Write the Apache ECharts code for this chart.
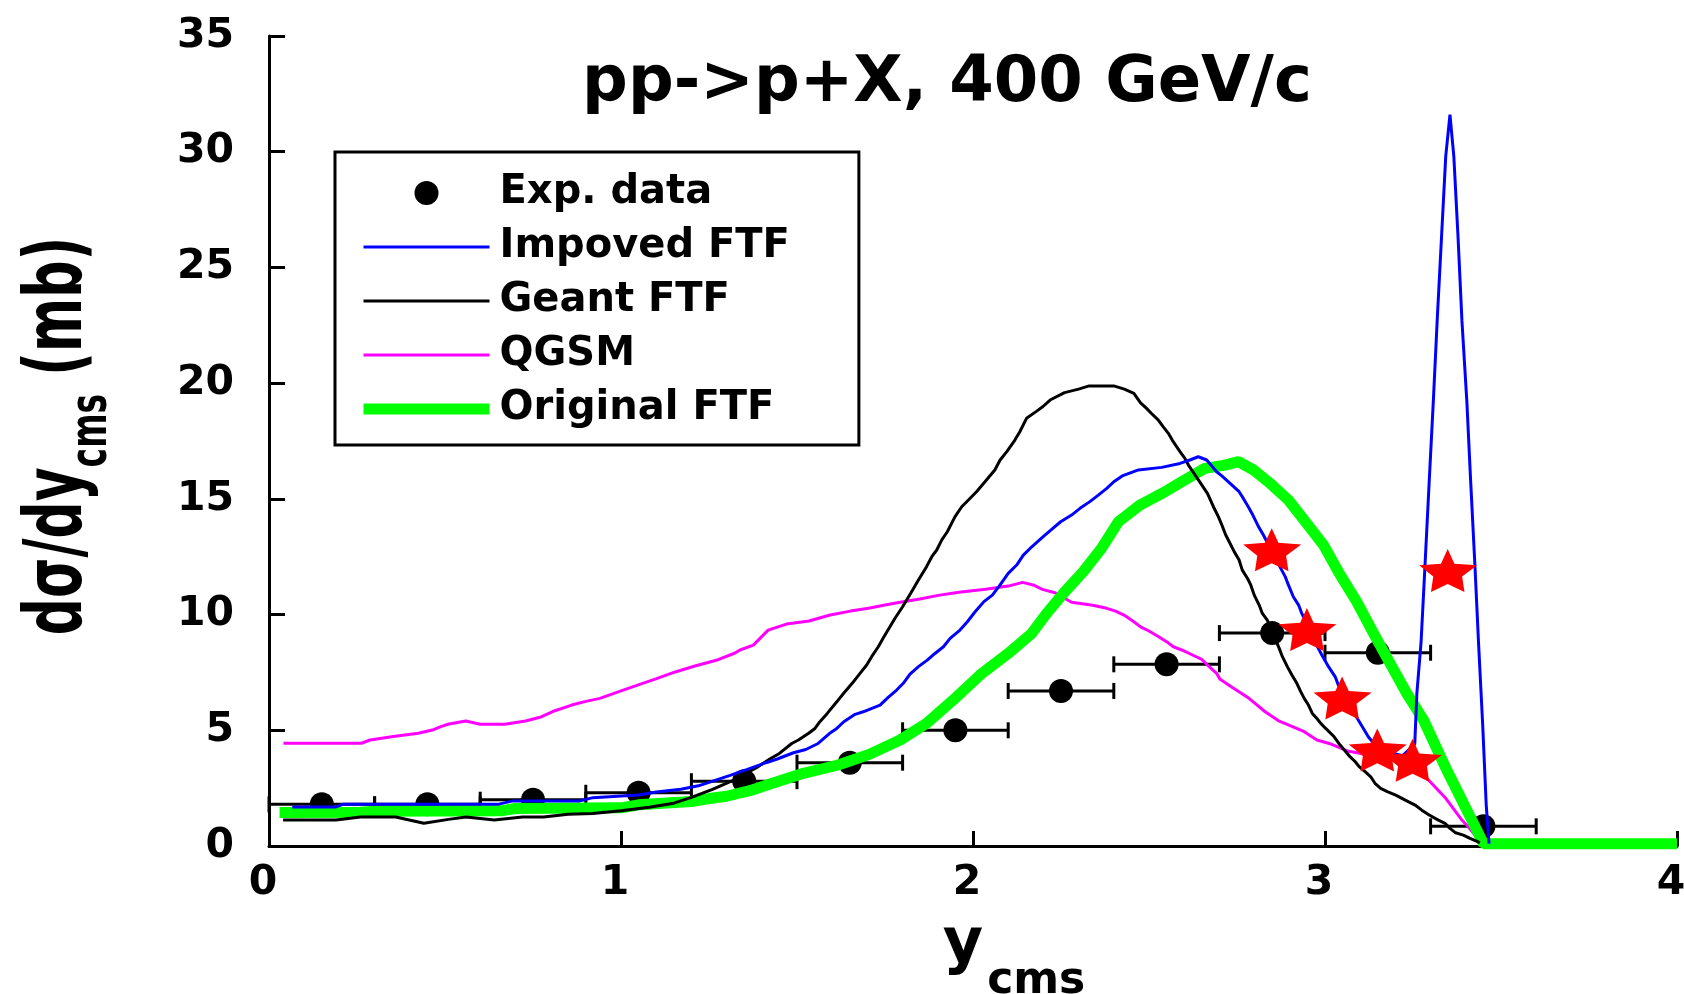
<!DOCTYPE html>
<html>
<head>
<meta charset="utf-8">
<script src="https://cdn.jsdelivr.net/npm/echarts@6/dist/echarts.min.js"></script>
<style>
html,body{margin:0;padding:0;background:#fff;}
#chart{width:1684px;height:994px;}
</style>
</head>
<body>
<div id="chart"></div>
<script>
// ---- data ----
const titleText = 'pp->p+X, 400 GeV/c';
const xTicks = [0, 1, 2, 3, 4];
const yTicks = [0, 5, 10, 15, 20, 25, 30, 35];

const expX    = [0.15, 0.45, 0.75, 1.05, 1.35, 1.65, 1.95, 2.25, 2.55, 2.85, 3.15, 3.45];
const expY    = [1.8, 1.8, 2.0, 2.3, 2.8, 3.6, 5.0, 6.7, 7.85, 9.2, 8.35, 0.85];
const expXErr = [0.15, 0.15, 0.15, 0.15, 0.15, 0.15, 0.15, 0.15, 0.15, 0.15, 0.15, 0.15];

const starX = [2.85, 2.95, 3.05, 3.15, 3.25, 3.35];
const starY = [12.8, 9.35, 6.4, 4.15, 3.7, 11.9];

const improvedX = [0.066,0.19,0.21,0.5,0.65,0.69,0.88,0.92,0.99,1.05,1.1,1.17,1.22,1.25,1.28,1.31,1.338,1.359,1.414,1.444,1.49,1.525,1.56,1.592,1.613,1.633,1.665,1.688,1.736,1.759,1.783,1.802,1.821,1.845,1.87,1.892,1.916,1.935,1.963,1.984,2.006,2.031,2.055,2.077,2.10,2.124,2.143,2.167,2.197,2.221,2.249,2.28,2.304,2.332,2.356,2.38,2.40,2.424,2.47,2.536,2.588,2.616,2.64,2.664,2.692,2.707,2.728,2.756,2.768,2.782,2.795,2.811,2.825,2.85,2.877,2.887,2.896,2.91,2.925,2.934,2.958,2.981,2.991,3.01,3.029,3.038,3.06,3.086,3.109,3.123,3.14,3.17,3.22,3.255,3.261,3.273,3.284,3.296,3.308,3.319,3.331,3.343,3.355,3.366,3.378,3.389,3.403,3.414,3.426,3.436,3.448,3.458,3.466];
const improvedY = [1.69,1.69,1.8,1.8,1.8,1.94,1.94,2.09,2.15,2.2,2.33,2.45,2.6,2.75,2.9,3.05,3.2,3.31,3.61,3.76,4.03,4.17,4.43,4.86,5.08,5.37,5.69,5.8,6.09,6.42,6.74,7.03,7.43,7.75,8.03,8.32,8.61,8.97,9.33,9.69,10.12,10.56,10.84,11.28,11.78,12.14,12.57,12.93,13.34,13.65,14.01,14.3,14.59,14.88,15.16,15.45,15.74,15.99,16.25,16.36,16.53,16.68,16.82,16.68,16.17,15.99,15.7,15.31,15.02,14.66,14.3,13.8,13.44,12.7,11.92,11.64,11.28,10.77,10.41,10.05,9.3,8.54,8.25,7.75,7.31,6.95,6.3,5.66,5.08,4.72,4.4,4.1,3.9,4.4,6.6,8.83,12.1,15.74,19.3,22.8,26.3,29.8,31.6,29.8,26.3,22.7,19.2,15.7,12.1,8.83,5.23,1.77,0.1];

const geantX = [0.04,0.19,0.26,0.36,0.44,0.51,0.56,0.64,0.72,0.78,0.85,0.92,1.0,1.08,1.15,1.2,1.26,1.32,1.39,1.425,1.45,1.485,1.504,1.532,1.551,1.565,1.586,1.613,1.632,1.658,1.679,1.698,1.712,1.731,1.747,1.764,1.778,1.80,1.823,1.845,1.868,1.883,1.897,1.911,1.927,1.949,1.968,1.987,2.01,2.034,2.062,2.077,2.096,2.119,2.133,2.152,2.179,2.198,2.219,2.26,2.30,2.33,2.40,2.43,2.457,2.476,2.493,2.507,2.526,2.54,2.555,2.566,2.588,2.602,2.612,2.647,2.666,2.683,2.697,2.707,2.718,2.73,2.742,2.756,2.765,2.78,2.789,2.799,2.813,2.822,2.836,2.87,2.879,2.893,2.906,2.92,2.931,2.941,2.953,2.964,2.977,2.988,3.002,3.026,3.043,3.071,3.086,3.097,3.114,3.13,3.142,3.158,3.177,3.201,3.228,3.256,3.275,3.296,3.322,3.341,3.355,3.371,3.393,3.412,3.44];
const geantY = [1.12,1.12,1.25,1.25,0.98,1.15,1.25,1.12,1.25,1.25,1.37,1.4,1.52,1.67,1.85,2.1,2.45,2.85,3.43,3.78,4.0,4.43,4.58,4.86,5.08,5.37,5.73,6.23,6.59,7.05,7.46,7.82,8.18,8.61,9.04,9.47,9.83,10.34,10.92,11.49,12.07,12.5,12.79,13.22,13.58,14.23,14.66,14.95,15.31,15.74,16.25,16.68,17.04,17.54,17.9,18.48,18.77,18.98,19.27,19.59,19.74,19.88,19.88,19.74,19.56,19.15,18.91,18.69,18.41,18.12,17.83,17.54,17.04,16.75,16.46,15.67,15.24,14.66,14.23,13.87,13.44,13.08,12.72,12.36,11.92,11.56,11.28,10.84,10.41,10.05,9.76,8.54,8.18,7.75,7.39,7.03,6.67,6.38,6.09,5.73,5.51,5.3,5.08,4.72,4.36,3.86,3.64,3.43,3.21,2.99,2.71,2.49,2.35,2.2,1.98,1.77,1.55,1.34,1.12,0.98,0.76,0.57,0.47,0.33,0.15];

const qgsmX = [0.041,0.263,0.287,0.353,0.424,0.464,0.488,0.511,0.559,0.6,0.67,0.729,0.77,0.806,0.86,0.9,0.94,0.994,1.045,1.099,1.152,1.21,1.276,1.324,1.338,1.376,1.418,1.47,1.534,1.594,1.652,1.703,1.75,1.797,1.849,1.901,1.96,2.036,2.10,2.141,2.171,2.197,2.233,2.28,2.34,2.38,2.405,2.429,2.457,2.476,2.50,2.531,2.55,2.569,2.593,2.628,2.65,2.671,2.692,2.702,2.737,2.784,2.83,2.868,2.901,2.941,2.977,3.012,3.067,3.2,3.294,3.343,3.389,3.407,3.43];
const qgsmY = [4.44,4.44,4.58,4.73,4.87,5.01,5.16,5.27,5.4,5.26,5.26,5.4,5.56,5.81,6.09,6.25,6.38,6.67,6.94,7.22,7.51,7.78,8.05,8.34,8.47,8.68,9.33,9.59,9.72,9.98,10.15,10.27,10.41,10.54,10.67,10.83,10.96,11.09,11.23,11.39,11.28,11.09,10.94,10.53,10.4,10.27,10.15,9.98,9.69,9.47,9.29,9.01,8.83,8.61,8.47,8.22,8.06,7.75,7.46,7.2,6.85,6.38,5.8,5.41,5.2,4.94,4.58,4.43,4.09,3.74,2.85,2.06,1.12,0.83,0.4];

const originalX = [0.03,0.26,0.3,0.66,0.7,1.0,1.05,1.2,1.25,1.3,1.34,1.366,1.428,1.518,1.617,1.707,1.793,1.868,1.944,2.02,2.10,2.167,2.209,2.257,2.313,2.365,2.413,2.474,2.541,2.593,2.659,2.716,2.754,2.797,2.844,2.896,2.948,2.996,3.038,3.09,3.138,3.19,3.232,3.28,3.313,3.346,3.384,3.417,3.45,4.0];
const originalY = [1.45,1.46,1.5,1.52,1.62,1.65,1.78,1.92,2.05,2.15,2.3,2.39,2.7,3.14,3.5,3.97,4.58,5.3,6.31,7.39,8.32,9.19,10.05,10.92,11.85,12.86,14.01,14.73,15.27,15.74,16.32,16.46,16.61,16.25,15.67,14.95,13.94,13.0,11.85,10.56,9.19,7.75,6.6,5.44,4.36,3.28,2.13,1.12,0.1,0.1];

// ---- build chart ----
const pairs = (xs, ys) => xs.map((x, i) => [x, ys[i]]);
const FONT = 'DejaVu Sans';
const starPath = 'path://M85 0 L105 45 L173 50 L128 85 L135 133 L85 108 L35 133 L42 85 L0 50 L65 45 Z';

const chart = echarts.init(document.getElementById('chart'), null, {renderer: 'canvas'});

const hideSym = {opacity: 0};
const option = {
  backgroundColor: '#ffffff',
  animation: false,
  title: {
    text: titleText,
    left: 942,
    top: 47,
    textAlign: 'center',
    textStyle: {fontFamily: FONT, fontWeight: 'bold', fontSize: 64, lineHeight: 64, color: '#000'}
  },
  legend: {
    orient: 'vertical',
    left: 335,
    top: 152,
    padding: [19, 69, 14, 23],
    borderColor: '#000',
    borderWidth: 3,
    backgroundColor: '#fff',
    itemWidth: 126,
    itemHeight: 24,
    itemGap: 10,
    selectedMode: false,
    lineStyle: {width: 'inherit'},
    data: [
      {name: 'Exp. data'},
      {name: 'Impoved FTF', itemStyle: hideSym},
      {name: 'Geant FTF', itemStyle: hideSym},
      {name: 'QGSM', itemStyle: hideSym},
      {name: 'Original FTF', itemStyle: hideSym}
    ],
    textStyle: {fontFamily: FONT, fontWeight: 'bold', fontSize: 40, lineHeight: 44, color: '#000', padding: [0, 0, 0, 5]}
  },
  grid: {left: 269, right: 7, top: 36, bottom: 148, containLabel: false, outerBoundsMode: 'none'},
  xAxis: {
    type: 'value', min: 0, max: 4, interval: 1,
    name: '{a|y}{b|cms}',
    nameLocation: 'middle',
    nameGap: 69,
    nameTextStyle: {
      padding: [0, 0, 0, 82],
      rich: {
        a: {fontFamily: FONT, fontWeight: 'bold', fontSize: 62, lineHeight: 62, verticalAlign: 'top', color: '#000'},
        b: {fontFamily: FONT, fontWeight: 'bold', fontSize: 44, lineHeight: 44, verticalAlign: 'top', padding: [45, 0, 0, 4], color: '#000'}
      }
    },
    axisLine: {lineStyle: {color: '#000', width: 3}},
    axisTick: {inside: true, length: 15, lineStyle: {color: '#000', width: 3}},
    axisLabel: {fontFamily: FONT, fontWeight: 'bold', fontSize: 41, color: '#000', margin: 17,
      padding: [0, 12, 0, 0],
      formatter: v => String(xTicks[xTicks.indexOf(v)])},
    splitLine: {show: false}
  },
  yAxis: {
    type: 'value', min: 0, max: 35, interval: 5,
    axisLine: {show: true, lineStyle: {color: '#000', width: 3}},
    axisTick: {show: true, inside: true, length: 16, lineStyle: {color: '#000', width: 3}},
    axisLabel: {fontFamily: FONT, fontWeight: 'bold', fontSize: 41, color: '#000', margin: 35,
      formatter: v => String(yTicks[yTicks.indexOf(v)])},
    splitLine: {show: false}
  },
  graphic: [{
    type: 'text',
    x: 19.5,
    y: 436,
    rotation: Math.PI / 2,
    scaleY: 1.55,
    style: {
      text: '{a|dσ/dy}{b|cms}{a| (mb)}',
      align: 'center',
      verticalAlign: 'top',
      textAlign: 'center',
      textVerticalAlign: 'top',
      fill: '#000',
      rich: {
        a: {fontFamily: FONT, fontWeight: 'bold', fontSize: 52, lineHeight: 52, verticalAlign: 'top', fill: '#000'},
        b: {fontFamily: FONT, fontWeight: 'bold', fontSize: 33, lineHeight: 33, verticalAlign: 'top', padding: [31, 0, 0, 0], fill: '#000'}
      }
    }
  }],
  series: [
    {
      name: 'Exp. errors',
      type: 'custom',
      z: 1,
      data: expX.map((x, i) => [x, expY[i], expXErr[i]]),
      encode: {x: 0, y: 1},
      renderItem: function (params, api) {
        const x = api.value(0), y = api.value(1), e = api.value(2);
        const p1 = api.coord([x - e, y]);
        const p2 = api.coord([x + e, y]);
        const h = 8;
        const st = {stroke: '#000', lineWidth: 3};
        return {
          type: 'group',
          children: [
            {type: 'line', shape: {x1: p1[0], y1: p1[1], x2: p2[0], y2: p2[1]}, style: st},
            {type: 'line', shape: {x1: p1[0], y1: p1[1] - h, x2: p1[0], y2: p1[1] + h}, style: st},
            {type: 'line', shape: {x1: p2[0], y1: p2[1] - h, x2: p2[0], y2: p2[1] + h}, style: st}
          ]
        };
      }
    },
    {
      name: 'Exp. data', type: 'scatter', z: 2,
      symbol: 'circle', symbolSize: 24,
      itemStyle: {color: '#000', opacity: 1},
      data: pairs(expX, expY)
    },
    {
      name: 'QGSM', type: 'line', z: 3, symbol: 'none', showSymbol: false,
      lineStyle: {color: '#ff00ff', width: 3},
      itemStyle: {color: '#ff00ff'},
      data: pairs(qgsmX, qgsmY)
    },
    {
      name: 'Original FTF', type: 'line', z: 4, symbol: 'none', showSymbol: false,
      lineStyle: {color: '#00ff00', width: 11},
      itemStyle: {color: '#00ff00'},
      data: pairs(originalX, originalY)
    },
    {
      name: 'Geant FTF', type: 'line', z: 5, symbol: 'none', showSymbol: false,
      lineStyle: {color: '#000000', width: 3},
      itemStyle: {color: '#000000'},
      data: pairs(geantX, geantY)
    },
    {
      name: 'Impoved FTF', type: 'line', z: 6, symbol: 'none', showSymbol: false,
      lineStyle: {color: '#0000ff', width: 3},
      itemStyle: {color: '#0000ff'},
      data: pairs(improvedX, improvedY)
    },
    {
      name: 'Stars', type: 'scatter', z: 7,
      symbol: starPath, symbolSize: [58, 43],
      itemStyle: {color: '#ff0000', opacity: 1},
      data: pairs(starX, starY)
    }
  ]
};
chart.setOption(option);
</script>
</body>
</html>
